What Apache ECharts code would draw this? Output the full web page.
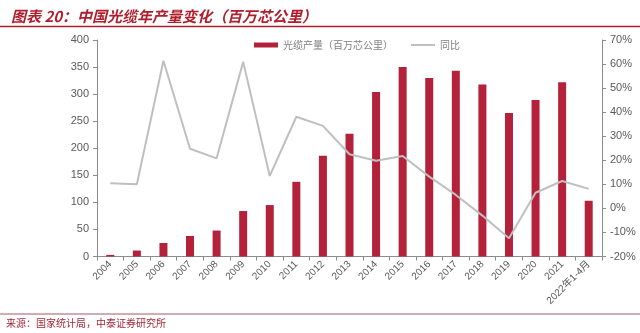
<!DOCTYPE html>
<html>
<head>
<meta charset="utf-8">
<script src="https://cdn.jsdelivr.net/npm/echarts@6/dist/echarts.min.js"></script>
<style>
  html, body { margin: 0; padding: 0; background: #fff; }
  #chart { width: 640px; height: 333px; }
</style>
</head>
<body>
<div id="chart"></div>
<script>
// 年份类目
const categories = ['2004', '2005', '2006', '2007', '2008', '2009', '2010', '2011', '2012', '2013',
  '2014', '2015', '2016', '2017', '2018', '2019', '2020', '2021', '2022年1-4月'];
// 光缆产量（百万芯公里）
const output = [3, 11, 25, 38, 48, 84, 95, 138, 186, 227, 304, 350, 330, 343, 318, 265, 289, 322, 103];
// 同比（%）
const yoy = [10.4, 10.0, 61.4, 24.8, 20.8, 60.9, 13.5, 38.1, 34.3, 22.5, 19.8, 21.8, 13.2, 5.6, -3.0, -12.4, 6.5, 11.4, 8.1];
// 左轴刻度
const leftTicks = [0, 50, 100, 150, 200, 250, 300, 350, 400];
// 右轴刻度（%）
const rightTicks = [-20, -10, 0, 10, 20, 30, 40, 50, 60, 70];

const FONT = '"Noto Sans CJK SC", "Liberation Sans", sans-serif';
const AXIS_GRAY = '#8c8c8c';
const LABEL_GRAY = '#595959';
const BAR_RED = '#b4213b';

const chart = echarts.init(document.getElementById('chart'));
chart.setOption({
  animation: false,
  backgroundColor: '#ffffff',
  textStyle: { fontFamily: FONT },
  title: {
    text: '图表 20：中国光缆年产量变化（百万芯公里）',
    left: 6, top: 4,
    textStyle: { color: '#b01e2c', fontSize: 15, fontWeight: 'bold', fontStyle: 'italic', fontFamily: FONT }
  },
  graphic: [
    { type: 'line', shape: { x1: 0, y1: 26.5, x2: 640, y2: 26.5 }, style: { stroke: '#b01e2c', lineWidth: 1.5 } },
    { type: 'line', shape: { x1: 0, y1: 314, x2: 640, y2: 314 }, style: { stroke: '#a4586a', lineWidth: 1 } },
    { type: 'text', left: 6, top: 318, style: { text: '来源：国家统计局，中泰证券研究所', fill: '#a3283a', font: '10px ' + FONT } }
  ],
  legend: {
    top: 35, left: 249,
    itemGap: 18,
    textStyle: { color: '#7f7f7f', fontSize: 10, fontFamily: FONT },
    data: [
      { name: '光缆产量（百万芯公里）', icon: 'rect', itemStyle: { color: BAR_RED } },
      { name: '同比', icon: 'path://M0,0 L24,0 L24,2 L0,2 Z', itemStyle: { color: '#bfbfbf' } }
    ],
    itemWidth: 24, itemHeight: 5
  },
  grid: { left: 97, right: 38, top: 40, bottom: 76.5, containLabel: false },
  xAxis: {
    type: 'category',
    data: categories,
    axisLine: { lineStyle: { color: AXIS_GRAY } },
    axisTick: { show: true, alignWithLabel: false, length: 4, lineStyle: { color: AXIS_GRAY } },
    axisLabel: { color: LABEL_GRAY, fontSize: 10, rotate: 45, interval: 0, margin: 6, fontFamily: '"Liberation Sans", "Noto Sans CJK SC", sans-serif' }
  },
  yAxis: [
    {
      type: 'value', min: leftTicks[0], max: leftTicks[leftTicks.length - 1], interval: 50,
      axisLine: { show: true, lineStyle: { color: AXIS_GRAY } },
      axisTick: { show: true, inside: false, length: 4, lineStyle: { color: AXIS_GRAY } },
      axisLabel: { color: LABEL_GRAY, fontSize: 11, margin: 8, fontFamily: '"Liberation Sans", sans-serif' },
      splitLine: { show: false }
    },
    {
      type: 'value', min: rightTicks[0], max: rightTicks[rightTicks.length - 1], interval: 10,
      position: 'right',
      axisLine: { show: true, lineStyle: { color: AXIS_GRAY } },
      axisTick: { show: true, inside: false, length: 4, lineStyle: { color: AXIS_GRAY } },
      axisLabel: { color: LABEL_GRAY, fontSize: 11, margin: 8, formatter: '{value}%', fontFamily: '"Liberation Sans", sans-serif' },
      splitLine: { show: false }
    }
  ],
  series: [
    {
      name: '光缆产量（百万芯公里）',
      type: 'bar',
      data: output,
      barWidth: 8,
      itemStyle: { color: BAR_RED }
    },
    {
      name: '同比',
      type: 'line',
      yAxisIndex: 1,
      data: yoy,
      symbol: 'none',
      lineStyle: { color: '#bfbfbf', width: 2 },
      itemStyle: { color: '#bfbfbf' }
    }
  ]
});
</script>
</body>
</html>
